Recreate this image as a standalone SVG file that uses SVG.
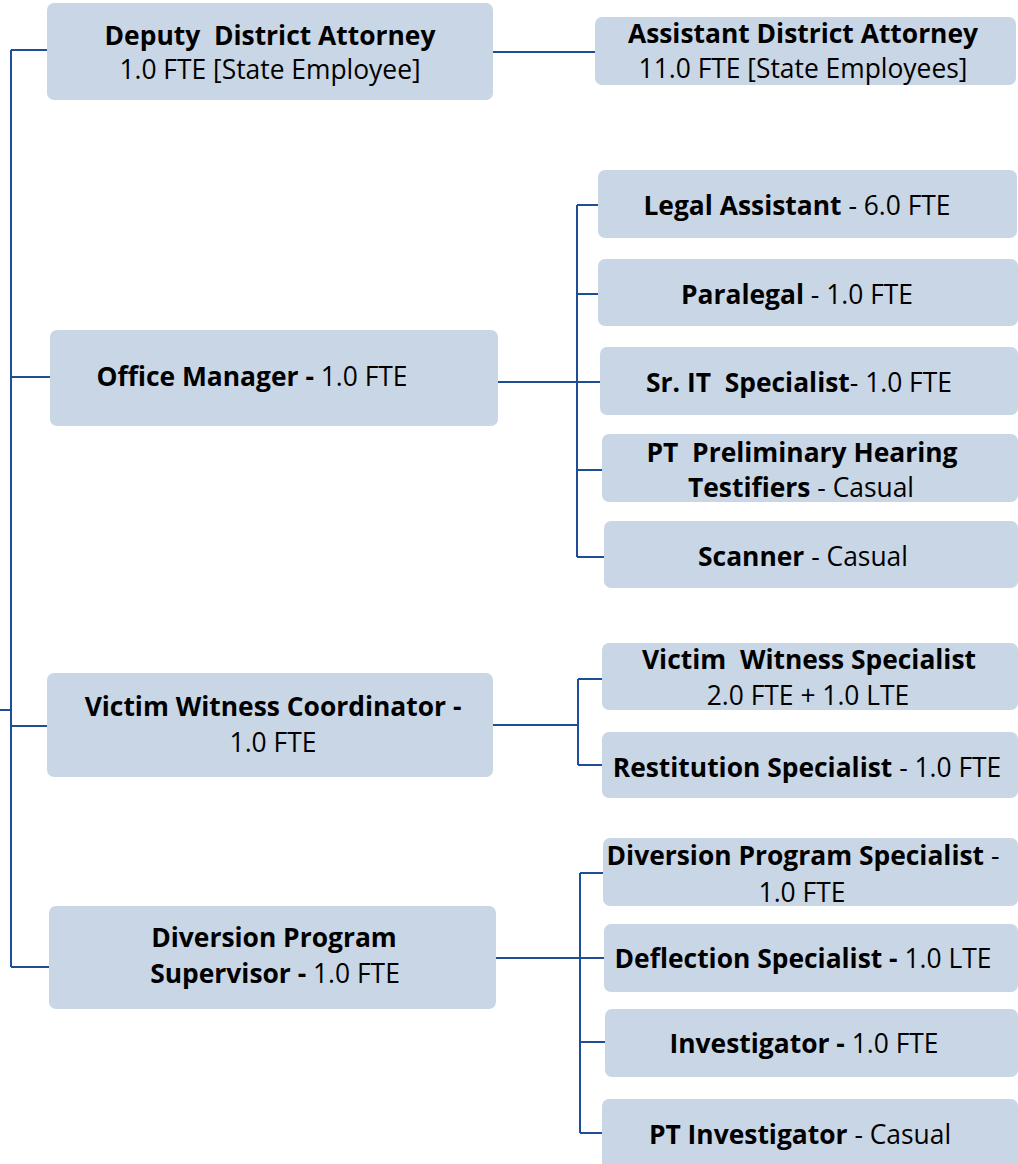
<svg xmlns="http://www.w3.org/2000/svg" width="1018" height="1164" viewBox="0 0 1018 1164" xml:space="preserve">
<style>
.box{fill:#c9d6e5;}
.t{font-family:"Open Sans","Noto Sans",sans-serif;font-size:26.4px;fill:#000;text-anchor:middle;white-space:pre;}
.b{font-weight:bold;}
.c{fill:none;stroke:#1f4e99;stroke-width:2;}
</style>
<rect width="1018" height="1164" fill="#fff"/>
<g id="connectors" class="c">
<path d="M0,710 H11 M11,50 V967 M11,50 H47 M11,377 H50 M11,726 H47 M11,967 H49"/>
<path d="M493,52 H595"/>
<path d="M498,382 H600 M577,205 V557 M577,205 H598 M577,294 H598 M577,470 H602 M577,557 H604"/>
<path d="M493,725 H578 M578,679 V765 M578,679 H602 M578,765 H602"/>
<path d="M495,958 H604 M580,873 V1133 M580,873 H603 M580,1042 H605 M580,1133 H602"/>
</g>
<g id="deputy"><rect class="box" x="47" y="3" width="446" height="97" rx="7"/>
<text class="t" x="270" y="45"><tspan class="b">Deputy  District Attorney</tspan></text>
<text class="t" x="270" y="79">1.0 FTE [State Employee]</text></g>
<g id="ada"><rect class="box" x="595" y="17" width="421" height="68" rx="7"/>
<text class="t" x="803" y="43"><tspan class="b">Assistant District Attorney</tspan></text>
<text class="t" x="803" y="78">11.0 FTE [State Employees]</text></g>
<g id="office-manager"><rect class="box" x="50" y="330" width="448" height="96" rx="7"/>
<text class="t" x="252" y="386"><tspan class="b">Office Manager - </tspan>1.0 FTE</text></g>
<g id="legal-assistant"><rect class="box" x="598" y="170" width="419" height="68" rx="7"/>
<text class="t" x="797" y="215"><tspan class="b">Legal Assistant</tspan> - 6.0 FTE</text></g>
<g id="paralegal"><rect class="box" x="598" y="259" width="420" height="67" rx="7"/>
<text class="t" x="797" y="304"><tspan class="b">Paralegal</tspan> - 1.0 FTE</text></g>
<g id="sr-it"><rect class="box" x="600" y="347" width="418" height="68" rx="7"/>
<text class="t" x="799" y="392"><tspan class="b">Sr. IT  Specialist</tspan>- 1.0 FTE</text></g>
<g id="pt-hearing"><rect class="box" x="602" y="434" width="416" height="68" rx="7"/>
<text class="t" x="802" y="462"><tspan class="b">PT  Preliminary Hearing</tspan></text>
<text class="t" x="801" y="497"><tspan class="b">Testifiers</tspan> - Casual</text></g>
<g id="scanner"><rect class="box" x="604" y="521" width="414" height="67" rx="7"/>
<text class="t" x="803" y="566"><tspan class="b">Scanner</tspan> - Casual</text></g>
<g id="vw-coordinator"><rect class="box" x="47" y="673" width="446" height="104" rx="7"/>
<text class="t" x="273" y="716"><tspan class="b">Victim Witness Coordinator -</tspan></text>
<text class="t" x="273" y="752">1.0 FTE</text></g>
<g id="vw-specialist"><rect class="box" x="602" y="643" width="416" height="67" rx="7"/>
<text class="t" x="809" y="669"><tspan class="b">Victim  Witness Specialist</tspan></text>
<text class="t" x="808" y="705">2.0 FTE + 1.0 LTE</text></g>
<g id="restitution"><rect class="box" x="602" y="732" width="416" height="66" rx="7"/>
<text class="t" x="807" y="777"><tspan class="b">Restitution Specialist</tspan> - 1.0 FTE</text></g>
<g id="diversion-supervisor"><rect class="box" x="49" y="906" width="447" height="103" rx="7"/>
<text class="t" x="274" y="947"><tspan class="b">Diversion Program</tspan></text>
<text class="t" x="275" y="983"><tspan class="b">Supervisor - </tspan>1.0 FTE</text></g>
<g id="diversion-specialist"><rect class="box" x="603" y="838" width="415" height="68" rx="7"/>
<text class="t" x="803" y="865"><tspan class="b">Diversion Program Specialist</tspan> -</text>
<text class="t" x="802" y="902">1.0 FTE</text></g>
<g id="deflection"><rect class="box" x="604" y="924" width="414" height="68" rx="7"/>
<text class="t" x="803" y="968"><tspan class="b">Deflection Specialist - </tspan>1.0 LTE</text></g>
<g id="investigator"><rect class="box" x="605" y="1009" width="413" height="68" rx="7"/>
<text class="t" x="804" y="1053"><tspan class="b">Investigator - </tspan>1.0 FTE</text></g>
<g id="pt-investigator"><rect class="box" x="602" y="1099" width="416" height="70" rx="7"/>
<text class="t" x="800" y="1144"><tspan class="b">PT Investigator</tspan> - Casual</text></g>
</svg>
